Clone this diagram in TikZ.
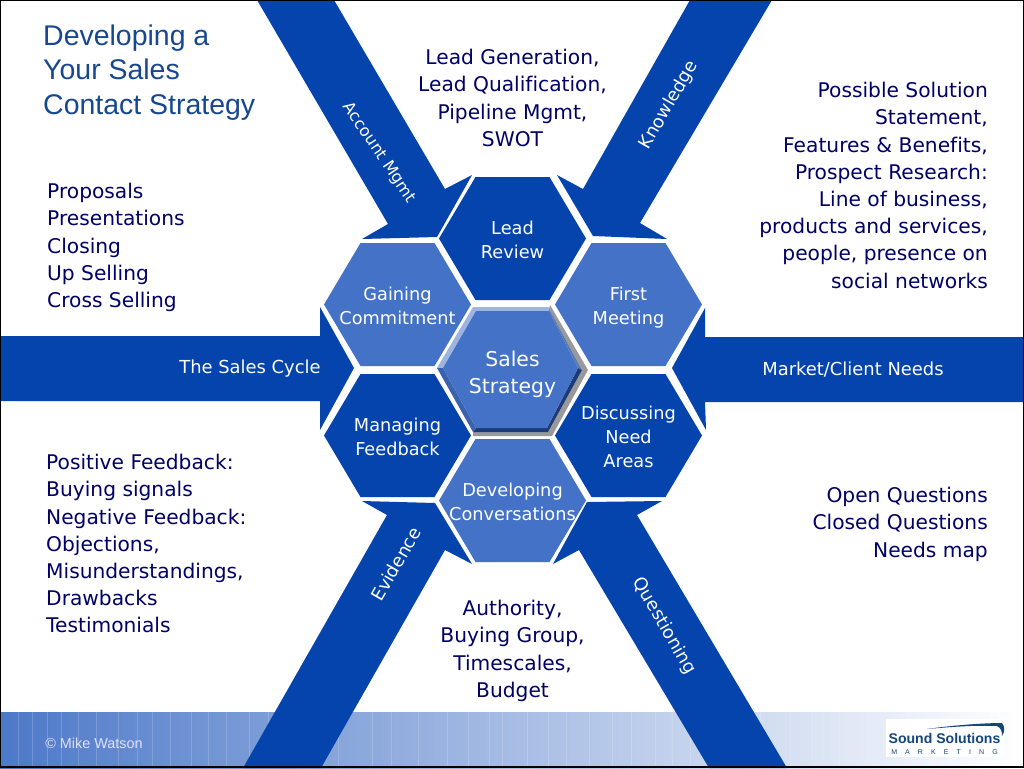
\documentclass[tikz,border=0pt]{standalone}
\usepackage{fontspec}
\setmainfont[Ligatures=NoCommon]{DejaVu Sans}
\newfontfamily\titlefont{Liberation Sans}
\usetikzlibrary{positioning, calc}
\definecolor{banddark}{RGB}{4,68,172}
\definecolor{hexlight}{RGB}{68,114,198}
\definecolor{textnavy}{RGB}{0,0,102}
\definecolor{titleblue}{RGB}{22,72,145}
\definecolor{logoblue}{RGB}{20,70,125}
\definecolor{bevellight}{RGB}{157,179,224}
\definecolor{bevelmid}{RGB}{58,98,173}
\definecolor{bevelside}{RGB}{91,123,181}
\definecolor{beveldark}{RGB}{28,58,120}

\begin{document}
\begin{tikzpicture}[
        x=0.02cm,
        y=-0.02cm,
        band/.style={fill=banddark},
        bandlabel/.style={text=white, font=\fontsize{10.2}{12}\selectfont},
        hexlabel/.style={text=white, align=center, font=\fontsize{10.1}{13.6}\selectfont},
        note/.style={text=textnavy, font=\fontsize{11.5}{15.5}\selectfont},
        ]
        \useasboundingbox (0,0) rectangle (1024,768);
        \fill[white] (0,0) rectangle (1024,768);

        % Footer strip
        \shade[left color=hexlight!95!white, right color=white] (0,712) rectangle (1024,768);
        \foreach \stripex in {18,32,47,61,78,96,118,137,152,170,191,208,226,249,268,296,338,372,391,418,447,468,489,502,527,548,566,589,612,631,655,672,690,716,738,760,790,812,839}
            \draw[white, opacity=0.18, line width=0.4pt] (\stripex,712) -- (\stripex,768);

        % Bands
        \fill[band] (257,0) -- (334,0) -- (445,189) -- (472,175) -- (437,237) -- (362,239) -- (388,224) -- cycle;
        \fill[band] (690,0) -- (772,0) -- (640,223) -- (667,239) -- (593,236) -- (557,175) -- (583,189) -- cycle;
        \fill[band] (0,336) -- (320,336) -- (320,307) -- (354,368) -- (320,430) -- (320,401) -- (0,401) -- cycle;
        \fill[band] (1024,337) -- (705,337) -- (705,308) -- (672,368) -- (706,430) -- (705,402) -- (1024,402) -- cycle;
        \fill[band] (243,768) -- (387,515) -- (362,501) -- (435,503) -- (472,564) -- (445,550) -- (321,768) -- cycle;
        \fill[band] (787,768) -- (637,515) -- (662,501) -- (587,502) -- (553,564) -- (579,550) -- (709,768) -- cycle;

        % Band labels
        \node[bandlabel, rotate=-56, font=\fontsize{9.2}{12}\selectfont] (AccountLabel) at (379,153) {Account Mgmt};
        \node[bandlabel, rotate=60] (KnowledgeLabel) at (669,105) {Knowledge};
        \node[bandlabel] (CycleLabel) at (250,369) {The Sales Cycle};
        \node[bandlabel] (MarketLabel) at (853,370) {Market/Client Needs};
        \node[bandlabel, rotate=60] (EvidenceLabel) at (396,564) {Evidence};
        \node[bandlabel, rotate=-60] (QuestionLabel) at (664,626) {Questioning};

        % Hexagons
        \foreach \hexname/\hexx/\hexy/\hexcol/\hexup/\hextext in {
            Lead/512.5/238.5/banddark/1/{Lead\\Review},
            Gaining/397.5/304.5/hexlight/1.5/{Gaining\\Commitment},
            First/628.5/304.5/hexlight/3.5/{First\\Meeting},
            Managing/397.5/435.5/banddark/1/{Managing\\Feedback},
            Discussing/628.5/435.5/banddark/1/{Discussing\\Need\\Areas},
            Developing/512.5/500.5/hexlight/1/{Developing\\Conversations}}{
            \fill[\hexcol] (\hexx-37,\hexy-61.5) -- (\hexx+37,\hexy-61.5) -- (\hexx+73.5,\hexy) -- (\hexx+37,\hexy+61.5) -- (\hexx-37,\hexy+61.5) -- (\hexx-73.5,\hexy) -- cycle;
            \node[hexlabel] (\hexname) at (\hexx,\hexy+\hexup) {\hextext};
        }

        % Centre hexagon with bevel
        \fill[black!40] (550,305) -- (588,370) -- (552,436) -- (473,436) -- (473,432) -- (548,432) -- (582,370) -- (549,309) -- cycle;
        \fill[bevelside] (548,307) -- (582,370) -- (578,368) -- (549,311) -- cycle;
        \fill[beveldark] (582,370) -- (548,432) -- (473,432) -- (476,428) -- (547,428) -- (578,368) -- cycle;
        \fill[bevellight] (473,307) -- (548,307) -- (549,311) -- (476,311) -- (443,368) -- (437,368) -- cycle;
        \fill[bevelmid] (437,368) -- (443,368) -- (476,428) -- (473,432) -- cycle;
        \fill[hexlight] (476,311) -- (549,311) -- (578,368) -- (547,428) -- (476,428) -- (443,368) -- cycle;
        \node[hexlabel, font=\fontsize{11.6}{15.5}\selectfont] (Sales) at (512.5,374) {Sales\\Strategy};

        % Notes
        \node[text=titleblue, align=left, anchor=north west, font=\titlefont\fontsize{16.2}{19.4}\selectfont] (Title) at (37,19) {Developing a\\Your Sales\\Contact Strategy};
        \node[note, align=center] (LeadNote) at (512.5,98) {Lead Generation,\\Lead Qualification,\\Pipeline Mgmt,\\SWOT};
        \node[note, align=right, anchor=north east] (SolutionNote) at (994,76) {Possible Solution\\Statement,\\Features \& Benefits,\\Prospect Research:\\Line of business,\\products and services,\\people, presence on\\social networks};
        \node[note, align=left, anchor=north west] (ProposalNote) at (41,177) {Proposals\\Presentations\\Closing\\Up Selling\\Cross Selling};
        \node[note, align=left, anchor=north west] (FeedbackNote) at (40,448) {Positive Feedback:\\Buying signals\\Negative Feedback:\\Objections,\\Misunderstandings,\\Drawbacks\\Testimonials};
        \node[note, align=right, anchor=north east] (QuestionNote) at (994,481) {Open Questions\\Closed Questions\\Needs map};
        \node[note, align=center] (BudgetNote) at (512.5,651) {Authority,\\Buying Group,\\Timescales,\\Budget};

        % Footer
        \node[text=white!88!blue, anchor=west, inner sep=0pt, font=\titlefont\fontsize{8.2}{9}\selectfont] (Copyright) at (45,743) {© Mike Watson};
        \fill[white] (886,719) rectangle (1004,757);
        \fill[logoblue] (927,729) .. controls (955,725) and (985,723) .. (1002,723) .. controls (1005,727) and (1005,731) .. (1002,736) .. controls (1002,731) and (1001,728) .. (997,726) .. controls (975,725) and (950,727) .. cycle;
        \node[text=logoblue, inner sep=0pt, font=\titlefont\bfseries\fontsize{8}{10}\selectfont] (Logo) at (944.5,738) {Sound Solutions};
        \node[text=logoblue, inner sep=0pt, font=\titlefont\fontsize{4}{5}\selectfont] (LogoSub) at (944.5,752) {M\hspace{1.15em}A\hspace{1.15em}R\hspace{1.15em}K\hspace{1.15em}E\hspace{1.15em}T\hspace{1.15em}I\hspace{1.15em}N\hspace{1.15em}G};

        % Frame
        \draw[black, line width=0.6pt] (0.5,0.5) rectangle (1023.5,767);
\end{tikzpicture}
\end{document}
